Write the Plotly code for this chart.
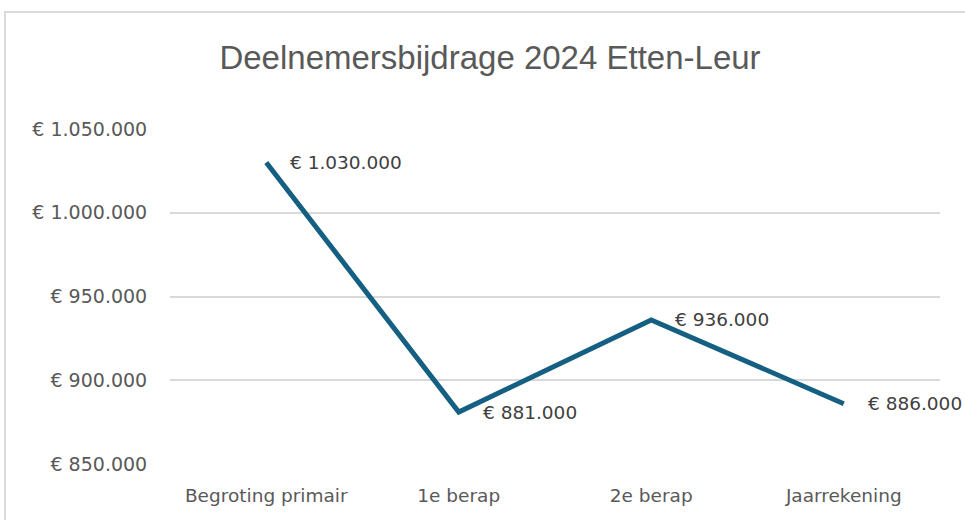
import plotly.graph_objects as go

# Deelnemersbijdrage per stap in de begrotingscyclus
categories = ["Begroting primair", "1e berap", "2e berap", "Jaarrekening"]
values = [1030000, 881000, 936000, 886000]
y_ticks = [850000, 900000, 950000, 1000000, 1050000]

LINE_COLOR = "#156082"
TEXT_GREY = "#595959"
LABEL_GREY = "#404040"
GRID_GREY = "#d9d9d9"
TITLE_FONT = "Liberation Sans"
FONT = "DejaVu Sans"


def euro(v):
    return "€ " + f"{v:,}".replace(",", ".")


fig = go.Figure()
fig.add_trace(go.Scatter(
    x=categories,
    y=values,
    mode="lines",
    line=dict(color=LINE_COLOR, width=5),
    hoverinfo="skip",
    showlegend=False,
))

# value labels to the right of each point
for c, v in zip(categories, values):
    fig.add_annotation(
        x=c, y=v, text=euro(v), showarrow=False,
        xanchor="left", yanchor="middle", xshift=22,
        font=dict(family=FONT, size=18.5, color=LABEL_GREY),
    )

W, H = 965, 520
L, R, T, B = 170, 25, 129, 56
pw, ph = W - L - R, H - T - B

# light chart border (extends past the page on the right and bottom)
fig.add_shape(
    type="rect", xref="paper", yref="paper",
    x0=(5 - L) / pw, x1=(W + 20 - L) / pw,
    y0=-(B + 20) / ph, y1=1 + (T - 12) / ph,
    line=dict(color=GRID_GREY, width=2), fillcolor="rgba(0,0,0,0)", layer="below",
)

fig.update_layout(
    width=W, height=H,
    margin=dict(l=L, r=R, t=T, b=B),
    paper_bgcolor="white", plot_bgcolor="white",
    title=dict(
        text="Deelnemersbijdrage 2024 Etten-Leur",
        x=490 / W, xanchor="center", xref="container",
        y=1 - 57 / H, yanchor="middle", yref="container",
        font=dict(family=TITLE_FONT, size=33, color=TEXT_GREY),
    ),
    xaxis=dict(
        range=[-0.5, 3.5], showgrid=False, zeroline=False,
        showline=False, ticks="outside", ticklen=15, tickcolor="rgba(0,0,0,0)",
        tickfont=dict(family=FONT, size=18.5, color=TEXT_GREY),
    ),
    yaxis=dict(
        range=[850000, 1050000], tickvals=y_ticks,
        ticktext=[euro(v) for v in y_ticks],
        showgrid=True, gridcolor=GRID_GREY, gridwidth=2,
        zeroline=False, showline=False,
        ticks="outside", ticklen=18, tickcolor="rgba(0,0,0,0)",
        tickfont=dict(family=FONT, size=19, color=TEXT_GREY),
    ),
)

fig.write_html("out.html")
